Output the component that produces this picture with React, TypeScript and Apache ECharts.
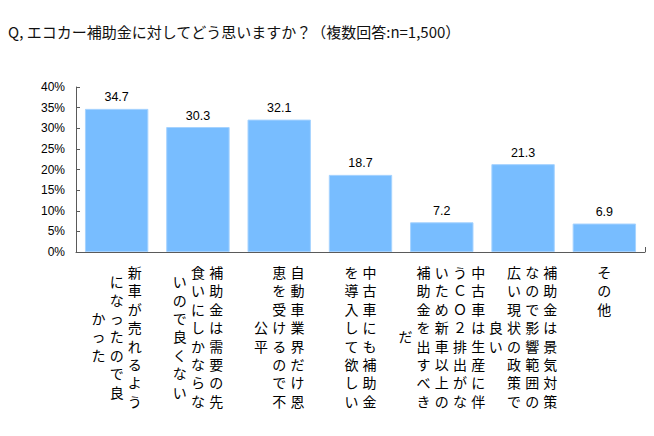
import React, { useEffect, useRef } from 'react';
import * as echarts from 'echarts';

const titleText = 'Q, エコカー補助金に対してどう思いますか？（複数回答:n=1,500）';

// Category labels, written vertically; each entry lists its columns from right to left.
const labelColumns: string[][] = [
  ['新車が売れるよう', 'になったので良', 'かった'],
  ['補助金は需要の先', '食いにしかならな', 'いので良くない'],
  ['自動車業界だけ恩', '恵を受けるので不', '公平'],
  ['中古車にも補助金', 'を導入して欲しい'],
  ['中古車は生産に伴', 'うＣＯ２排出がな', 'いため新車以上の', '補助金を出すべき', 'だ'],
  ['補助金は景気対策', 'なので影響範囲の', '広い現状の政策で', '良い'],
  ['その他'],
];
const categories = labelColumns.map((c) => c.join(''));
const values = [34.7, 30.3, 32.1, 18.7, 7.2, 21.3, 6.9];
const yMin = 0;
const yMax = 40;
const yInterval = 5;

const COL_STEP = 18.2;
const ROW_STEP = 18.4;
const TOP_GAP = 10.8;
const CJK = '"Noto Sans CJK JP", "Noto Sans CJK SC", sans-serif';
const LATIN = '"Liberation Sans", Arial, sans-serif';

export default function App() {
  const ref = useRef<HTMLDivElement>(null);
  useEffect(() => {
    if (!ref.current) return;
    const chart = echarts.init(ref.current, null, { renderer: 'svg' });
    chart.setOption({
      animation: false,
      backgroundColor: '#ffffff',
      title: {
        text: titleText,
        left: 8,
        top: 24,
        padding: 0,
        textStyle: { fontFamily: CJK, fontSize: 15, fontWeight: 'normal', color: '#111' },
      },
      grid: { left: 76, right: 9, top: 87, bottom: 184, containLabel: false },
      xAxis: {
        type: 'category',
        data: categories,
        axisLine: { show: true, lineStyle: { color: '#5a5a5a', width: 1 } },
        axisTick: { show: true, inside: true, length: 5, lineStyle: { color: '#5a5a5a' } },
        axisLabel: { show: false },
        splitLine: { show: false },
      },
      yAxis: {
        type: 'value',
        min: yMin,
        max: yMax,
        interval: yInterval,
        axisLine: { show: true, lineStyle: { color: '#5a5a5a', width: 1 } },
        axisTick: { show: true, inside: true, length: 4, lineStyle: { color: '#5a5a5a' } },
        axisLabel: { formatter: '{value}%', fontFamily: LATIN, fontSize: 12, color: '#000', margin: 11 },
        splitLine: { show: false },
      },
      series: [
        {
          type: 'bar',
          data: values,
          barCategoryGap: '22%',
          itemStyle: { color: '#78bdff', borderColor: '#a6d3ff', borderWidth: 1 },
          label: {
            show: true,
            position: 'top',
            distance: 5,
            fontFamily: LATIN,
            fontSize: 12.5,
            color: '#000',
            formatter: (p: any) => p.value.toFixed(1),
          },
        },
        {
          type: 'custom',
          clip: false,
          silent: true,
          z: 10,
          data: categories.map((_, i) => [i, 0]),
          renderItem: (params: any, api: any) => {
            const idx = api.value(0) as number;
            const pt = api.coord([idx, 0]);
            const cols = labelColumns[idx];
            const n = cols.length;
            const maxLen = Math.max(...cols.map((c) => Array.from(c).length));
            const children: any[] = [];
            cols.forEach((col, j) => {
              const chars = Array.from(col);
              const x = pt[0] + ((n - 1) / 2 - j) * COL_STEP;
              const off = (maxLen - chars.length) / 2;
              chars.forEach((ch, k) => {
                children.push({
                  type: 'text',
                  x,
                  y: pt[1] + TOP_GAP + (off + k + 0.5) * ROW_STEP,
                  style: {
                    text: ch,
                    fill: '#000',
                    fontFamily: CJK,
                    fontSize: 14,
                    align: 'center',
                    verticalAlign: 'middle',
                  },
                });
              });
            });
            return { type: 'group', children };
          },
        },
      ],
    });
    return () => chart.dispose();
  }, []);
  return (
    <div
      ref={ref}
      style={{ position: 'fixed', left: 0, top: 0, width: 654, height: 436, background: '#fff' }}
    />
  );
}
